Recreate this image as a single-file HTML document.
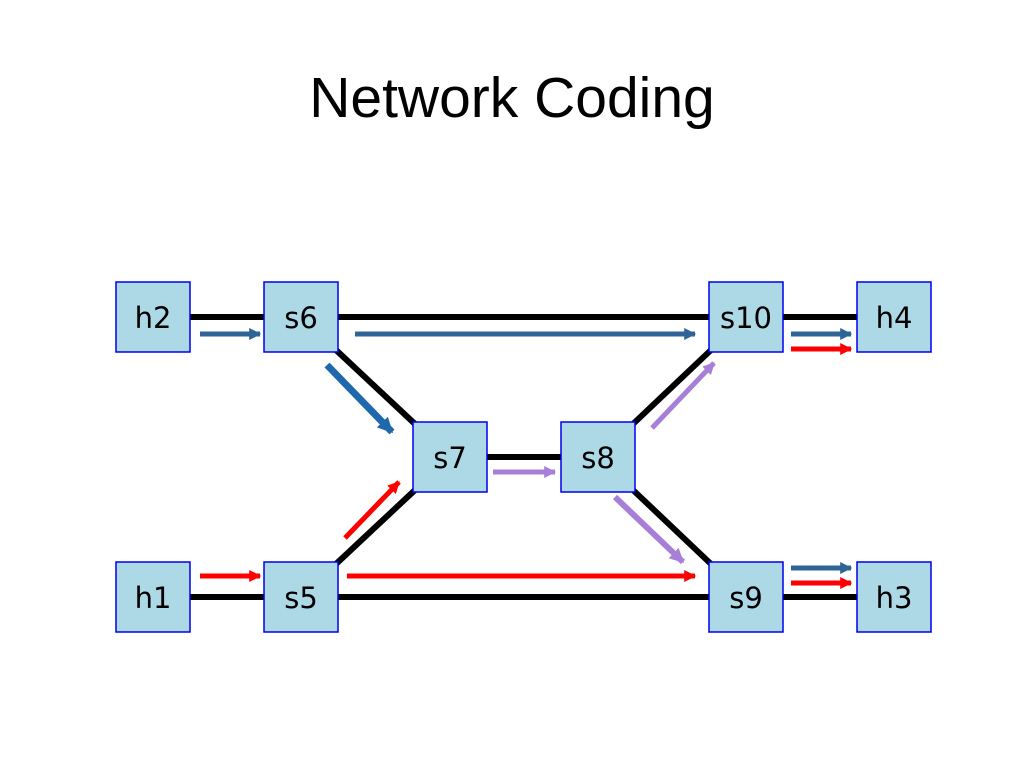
<!DOCTYPE html>
<html><head><meta charset="utf-8"><style>
body{margin:0;background:#fff;width:1024px;height:768px;overflow:hidden}
svg{display:block}
text{font-family:"DejaVu Sans","Liberation Sans",sans-serif}
</style></head><body>
<svg width="1024" height="768" viewBox="0 0 1024 768">
<defs>
<marker id="b" viewBox="0 0 10 10" refX="9" refY="5" markerWidth="2.4" markerHeight="2.8" orient="auto" markerUnits="strokeWidth"><path d="M0,0L10,5L0,10z" fill="#2e6496"/></marker>
<marker id="bd" viewBox="0 0 10 10" refX="9" refY="5" markerWidth="2.2" markerHeight="2.4" orient="auto" markerUnits="strokeWidth"><path d="M0,0L10,5L0,10z" fill="#2068ac"/></marker>
<marker id="r" viewBox="0 0 10 10" refX="9" refY="5" markerWidth="2.4" markerHeight="2.8" orient="auto" markerUnits="strokeWidth"><path d="M0,0L10,5L0,10z" fill="#ff0000"/></marker>
<marker id="p" viewBox="0 0 10 10" refX="9" refY="5" markerWidth="2.4" markerHeight="2.8" orient="auto" markerUnits="strokeWidth"><path d="M0,0L10,5L0,10z" fill="#a77fd6"/></marker>
</defs>
<text x="512" y="117" font-size="57" text-anchor="middle" style="font-family:'Liberation Sans',sans-serif">Network Coding</text>
<g stroke="#000" stroke-width="6" fill="none">
<line x1="190" y1="317" x2="857" y2="317"/>
<line x1="190" y1="597" x2="857" y2="597"/>
<line x1="487" y1="457" x2="561" y2="457"/>
<line x1="336" y1="350" x2="415" y2="424"/>
<line x1="336" y1="564" x2="415" y2="490"/>
<line x1="633" y1="424" x2="711" y2="350"/>
<line x1="633" y1="490" x2="711" y2="564"/>
</g>
<g fill="none">
<line x1="200" y1="334" x2="260" y2="334" stroke="#2e6496" stroke-width="5" marker-end="url(#b)"/>
<line x1="355" y1="334" x2="695" y2="334" stroke="#2e6496" stroke-width="5" marker-end="url(#b)"/>
<line x1="327" y1="365" x2="392" y2="432" stroke="#2068ac" stroke-width="7" marker-end="url(#bd)"/>
<line x1="791" y1="334" x2="851" y2="334" stroke="#2e6496" stroke-width="5" marker-end="url(#b)"/>
<line x1="791" y1="349" x2="851" y2="349" stroke="#ff0000" stroke-width="5" marker-end="url(#r)"/>
<line x1="791" y1="568" x2="851" y2="568" stroke="#2e6496" stroke-width="5" marker-end="url(#b)"/>
<line x1="791" y1="583" x2="851" y2="583" stroke="#ff0000" stroke-width="5" marker-end="url(#r)"/>
<line x1="200" y1="576" x2="260" y2="576" stroke="#ff0000" stroke-width="5" marker-end="url(#r)"/>
<line x1="347" y1="576" x2="695" y2="576" stroke="#ff0000" stroke-width="5" marker-end="url(#r)"/>
<line x1="345" y1="538" x2="399" y2="482" stroke="#ff0000" stroke-width="5" marker-end="url(#r)"/>
<line x1="493" y1="472" x2="555" y2="472" stroke="#a77fd6" stroke-width="5" marker-end="url(#p)"/>
<line x1="652" y1="428" x2="714" y2="363" stroke="#a77fd6" stroke-width="5" marker-end="url(#p)"/>
<line x1="615" y1="497" x2="683" y2="562" stroke="#a77fd6" stroke-width="6" marker-end="url(#p)"/>
</g>
<g fill="#add8e6" stroke="#0000ee" stroke-width="1.5">
<rect x="116" y="282" width="74" height="70"/><rect x="264" y="282" width="74" height="70"/>
<rect x="709" y="282" width="74" height="70"/><rect x="857" y="282" width="74" height="70"/>
<rect x="413" y="422" width="74" height="70"/><rect x="561" y="422" width="74" height="70"/>
<rect x="116" y="562" width="74" height="70"/><rect x="264" y="562" width="74" height="70"/>
<rect x="709" y="562" width="74" height="70"/><rect x="857" y="562" width="74" height="70"/>
</g>
<g font-size="29" text-anchor="middle" fill="#000">
<text x="153" y="328">h2</text><text x="301" y="328">s6</text><text x="746" y="328">s10</text><text x="894" y="328">h4</text>
<text x="450" y="468">s7</text><text x="598" y="468">s8</text>
<text x="153" y="608">h1</text><text x="301" y="608">s5</text><text x="746" y="608">s9</text><text x="894" y="608">h3</text>
</g>
</svg>
</body></html>
